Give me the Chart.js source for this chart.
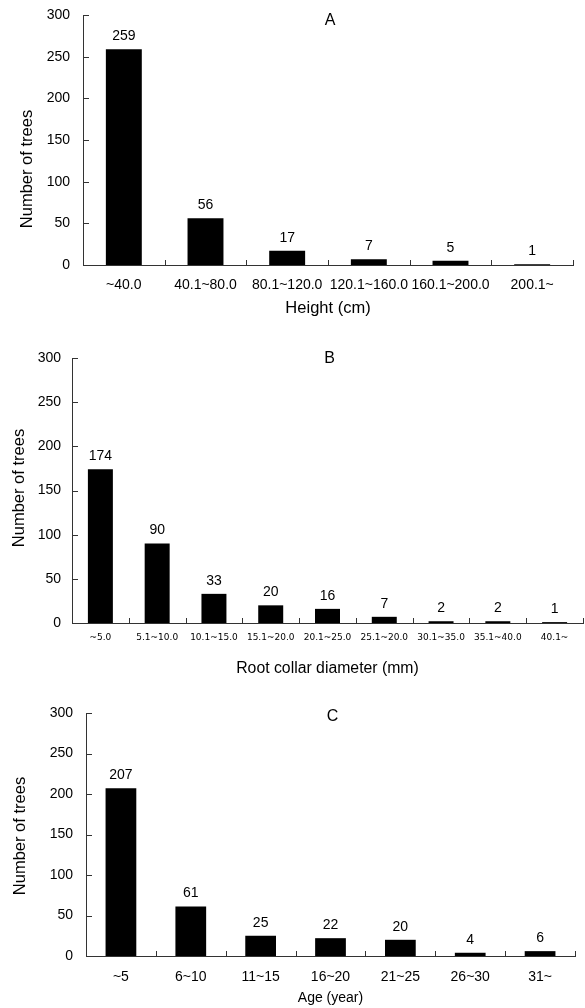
<!DOCTYPE html>
<html lang="en">
  <head>
    <meta charset="UTF-8" />
    <title>Tree size distribution</title>
    <script src="https://cdn.jsdelivr.net/npm/chart.js@4.4.1/dist/chart.umd.min.js"></script>
    <style>
      body { margin: 0; background: #fff; overflow: hidden; }
      .panel { position: absolute; left: 0; }
    </style>
  </head>
  <body>
    <!-- A starts above the page so the y labels' top padding fits -->
    <canvas id="chartA" class="panel" style="top: -10px" width="585" height="330"></canvas>
    <canvas id="chartB" class="panel" style="top: 320px" width="585" height="362"></canvas>
    <canvas id="chartC" class="panel" style="top: 682px" width="585" height="326"></canvas>

    <script>
      // A - height classes
      const heightLabels = ['~40.0', '40.1~80.0', '80.1~120.0', '120.1~160.0', '160.1~200.0', '200.1~'];
      const heightCounts = [259, 56, 17, 7, 5, 1];

      // B - root collar diameter classes (label "25.1~20.0" is as printed)
      const diameterLabels = ['~5.0', '5.1~10.0', '10.1~15.0', '15.1~20.0', '20.1~25.0', '25.1~20.0', '30.1~35.0', '35.1~40.0', '40.1~'];
      const diameterCounts = [174, 90, 33, 20, 16, 7, 2, 2, 1];

      // C - age classes
      const ageLabels = ['~5', '6~10', '11~15', '16~20', '21~25', '26~30', '31~'];
      const ageCounts = [207, 61, 25, 22, 20, 4, 6];

      const yMax = 300;
      const yStep = 50;

      const SANS = 'Liberation Sans, Arial, sans-serif';
      const INK = '#000';

      // inward tick marks, bar values, panel letter, rotated y title
      const panelPlugin = {
        id: 'panel',
        afterDatasetsDraw(chart, args, opts) {
          const { ctx, chartArea: a, scales: { x, y } } = chart;
          ctx.save();
          ctx.strokeStyle = '#333';
          ctx.lineWidth = 1;
          ctx.beginPath();
          y.ticks.forEach((t) => {
            if (t.value === 0) return;
            const py = Math.round(y.getPixelForValue(t.value)) + 0.5;
            ctx.moveTo(a.left, py);
            ctx.lineTo(a.left + 6, py);
          });
          for (let i = 1; i <= x.ticks.length; i++) {
            const px = Math.round(x.getPixelForValue(i - 0.5)) + 0.5;
            ctx.moveTo(px, a.bottom);
            ctx.lineTo(px, a.bottom - 5);
          }
          ctx.stroke();

          ctx.fillStyle = INK;
          ctx.textAlign = 'center';
          ctx.textBaseline = 'middle';
          ctx.font = '14px ' + SANS;
          const values = chart.data.datasets[0].data;
          chart.getDatasetMeta(0).data.forEach((bar, i) => {
            ctx.fillText(values[i], bar.x, bar.y - 13);
          });

          ctx.font = '16px ' + SANS;
          ctx.fillText(opts.letter, (a.left + a.right) / 2 + 2, a.top + opts.letterDy);

          ctx.translate(opts.yTitleX, opts.yTitleY);
          ctx.rotate(-Math.PI / 2);
          ctx.font = '16.5px ' + SANS;
          ctx.fillText('Number of trees', 0, 0);
          ctx.restore();
        },
      };

      function makeChart(id, labels, counts, p) {
        return new Chart(document.getElementById(id), {
          type: 'bar',
          data: {
            labels: labels,
            datasets: [{
              data: counts,
              backgroundColor: '#000',
              barPercentage: 0.44,
              categoryPercentage: 1,
            }],
          },
          options: {
            responsive: false,
            animation: false,
            layout: { padding: { top: p.top, right: p.right, left: 0, bottom: 0 } },
            plugins: {
              legend: { display: false },
              tooltip: { enabled: false },
              panel: { letter: p.letter, letterDy: p.letterDy, yTitleX: p.yTitleX, yTitleY: p.yTitleY },
            },
            scales: {
              x: {
                afterFit: (s) => { s.height = p.xHeight; },
                grid: { display: false, drawTicks: false },
                border: { display: true, color: '#333', width: 1 },
                ticks: { color: INK, padding: p.xTickPad, maxRotation: 0, autoSkip: false, font: p.xTickFont },
                title: { display: true, text: p.xTitle, color: INK, font: p.xTitleFont, padding: { top: 0, bottom: p.xTitlePad } },
              },
              y: {
                min: 0,
                max: yMax,
                afterFit: (s) => { s.width = p.yWidth; },
                grid: { display: false, drawTicks: false },
                border: { display: true, color: '#333', width: 1 },
                ticks: { stepSize: yStep, color: INK, padding: p.yTickPad, font: { family: SANS, size: 14 } },
              },
            },
          },
          plugins: [panelPlugin],
        });
      }

      makeChart('chartA', heightLabels, heightCounts, {
        top: 25, right: 12, yWidth: 83, xHeight: 55,
        xTickPad: 12, yTickPad: 13,
        xTickFont: { family: SANS, size: 14 },
        xTitle: 'Height (cm)', xTitleFont: { family: SANS, size: 16.5 }, xTitlePad: 2,
        letter: 'A', letterDy: 6, yTitleX: 27, yTitleY: 179,
      });

      makeChart('chartB', diameterLabels, diameterCounts, {
        top: 38, right: 2, yWidth: 72, xHeight: 59,
        xTickPad: 9, yTickPad: 11,
        xTickFont: { family: 'DejaVu Sans', size: 9 },
        xTitle: 'Root collar diameter (mm)', xTitleFont: { family: SANS, size: 15.8 }, xTitlePad: 4,
        letter: 'B', letterDy: 1, yTitleX: 19, yTitleY: 168,
      });

      makeChart('chartC', ageLabels, ageCounts, {
        top: 31, right: 10, yWidth: 86, xHeight: 52,
        xTickPad: 13, yTickPad: 13,
        xTickFont: { family: SANS, size: 14 },
        xTitle: 'Age (year)', xTitleFont: { family: SANS, size: 14 }, xTitlePad: 1,
        letter: 'C', letterDy: 4, yTitleX: 20, yTitleY: 154,
      });
    </script>
  </body>
</html>
